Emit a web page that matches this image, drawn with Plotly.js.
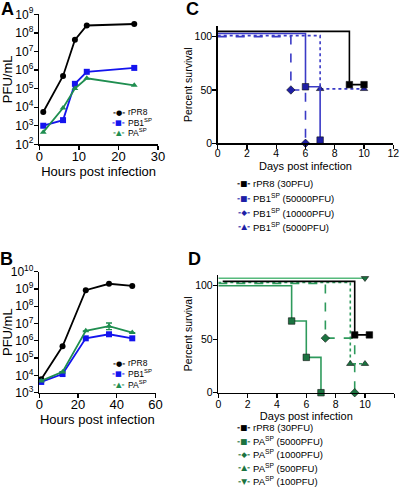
<!DOCTYPE html>
<html>
<head>
<meta charset="utf-8">
<script src="https://cdn.plot.ly/plotly-3.0.1.min.js"></script>
<style>html,body{margin:0;padding:0;background:#fff}#chart{width:400px;height:499px}</style>
</head>
<body>
<div id="chart"></div>
<script>
// ---------- Panel A: growth (hours) ----------
const A_hours = [1, 6, 9, 12, 24];
const A_rPR8  = [5.5e3, 4.8e5, 4.2e7, 2.5e8, 3.0e8];
const A_PB1SP = [1.0e3, 2.0e3, 1.8e5, 8.0e5, 1.3e6];
const A_PASP  = [4.5e2, 9.0e3, 1.0e5, 3.6e5, 1.5e5];
const A_ticks = [1e2, 1e3, 1e4, 1e5, 1e6, 1e7, 1e8, 1e9];
const A_tickText = ["10<sup>2</sup>","10<sup>3</sup>","10<sup>4</sup>","10<sup>5</sup>","10<sup>6</sup>","10<sup>7</sup>","10<sup>8</sup>","10<sup>9</sup>"];

// ---------- Panel B: growth (hours) ----------
const B_hours = [1, 12, 24, 36, 48];
const B_rPR8  = [6.0e3, 4.8e5, 8.5e8, 2.0e9, 1.5e9];
const B_PB1SP = [4.2e3, 1.2e4, 1.4e6, 2.4e6, 1.4e6];
const B_PASP  = [4.8e3, 1.6e4, 3.8e6, 7.0e6, 3.0e6];
const B_PASP_errPlus  = [0, 0, 0, 3.8e6, 0];
const B_PASP_errMinus = [0, 0, 0, 2.6e6, 0];
const B_ticks = [1e3, 1e4, 1e5, 1e6, 1e7, 1e8, 1e9, 1e10];
const B_tickText = ["10<sup>3</sup>","10<sup>4</sup>","10<sup>5</sup>","10<sup>6</sup>","10<sup>7</sup>","10<sup>8</sup>","10<sup>9</sup>","10<sup>10</sup>"];

// ---------- Panel C: survival, PB1SP ----------
const C_rPR8_days = [0, 9, 10];       const C_rPR8_surv = [105, 55, 55];
const C_PB1_50000_days = [0, 6, 7];   const C_PB1_50000_surv = [103, 53, 3];
const C_PB1_10000_days = [0, 5, 6];   const C_PB1_10000_surv = [100, 50, 0];
const C_PB1_5000_days = [0, 7, 10];   const C_PB1_5000_surv = [101, 51, 51];

// ---------- Panel D: survival, PASP ----------
const D_rPR8_days = [0.3, 9.3, 10.3];  const D_rPR8_surv = [104, 54, 54];
const D_PA_5000_days = [0, 5, 6, 7];   const D_PA_5000_surv = [100, 67, 33, 0];
const D_PA_1000_days = [0, 7.3, 9.3];  const D_PA_1000_surv = [102, 51, 0];
const D_PA_500_days = [0, 9, 10];      const D_PA_500_surv = [103, 27, 27];
const D_PA_100_days = [0, 10];         const D_PA_100_surv = [107, 107];

const survTicksX = [0, 2, 4, 6, 8, 10, 12];
const survTicksY = [0, 50, 100];

// ---------- styling ----------
const W = 400, H = 499;
const FONT = "Liberation Sans, Arial, sans-serif";
const BLACK = "#000000", BLUE = "#1414ee", GREEN = "#1f8e50";
const CBLUE = "#3a3ac6", CBLUE_M = "#1e1ea6";
const DGREEN = "#2e9a5c", DGREEN_M = "#1b7340", DGREEN_L = "#56ba7c";
const px = x => x / W;
const py = y => 1 - y / H;

const traces = [];
function growth(x, y, color, symbol, name, xa, ya, extra) {
  const t = {x: x, y: y, name: name, type: "scatter", mode: "lines+markers",
    xaxis: xa, yaxis: ya, showlegend: false, cliponaxis: false,
    line: {color: color, width: 1.8},
    marker: {color: color, symbol: symbol, size: 6}};
  Object.assign(t, extra || {});
  traces.push(t);
}
growth(A_hours, A_rPR8, BLACK, "circle", "rPR8", "x", "y");
growth(A_hours, A_PB1SP, BLUE, "square", "PB1SP", "x", "y");
growth(A_hours, A_PASP, GREEN, "triangle-up", "PASP", "x", "y");
growth(B_hours, B_rPR8, BLACK, "circle", "rPR8", "x3", "y3");
growth(B_hours, B_PB1SP, BLUE, "square", "PB1SP", "x3", "y3");
growth(B_hours, B_PASP, GREEN, "triangle-up", "PASP", "x3", "y3",
  {error_y: {type: "data", symmetric: false, array: B_PASP_errPlus, arrayminus: B_PASP_errMinus,
             color: GREEN, thickness: 1.3, width: 3}});

function survival(days, surv, lineColor, markColor, dash, symbol, name, xa, ya) {
  traces.push({x: days, y: surv, name: name, type: "scatter", mode: "lines",
    xaxis: xa, yaxis: ya, showlegend: false, cliponaxis: false,
    line: {color: lineColor, width: 1.6, shape: "hv", dash: dash}, hoverinfo: "skip"});
  traces.push({x: days.slice(1), y: surv.slice(1), name: name, type: "scatter", mode: "markers",
    xaxis: xa, yaxis: ya, showlegend: false, cliponaxis: false,
    marker: {color: markColor, symbol: symbol, size: 6.5, line: {color: "#101010", width: 0.6}}});
}
survival(C_PB1_10000_days, C_PB1_10000_surv, CBLUE, CBLUE_M, "dash", "diamond", "PB1SP (10000PFU)", "x2", "y2");
survival(C_PB1_5000_days, C_PB1_5000_surv, CBLUE, CBLUE_M, "dot", "triangle-up", "PB1SP (5000PFU)", "x2", "y2");
survival(C_PB1_50000_days, C_PB1_50000_surv, CBLUE, CBLUE_M, "solid", "square", "PB1SP (50000PFU)", "x2", "y2");
survival(C_rPR8_days, C_rPR8_surv, BLACK, BLACK, "solid", "square", "rPR8 (30PFU)", "x2", "y2");

survival(D_PA_5000_days, D_PA_5000_surv, DGREEN, DGREEN_M, "solid", "square", "PASP (5000PFU)", "x4", "y4");
survival(D_PA_1000_days, D_PA_1000_surv, DGREEN, DGREEN_M, "dash", "diamond", "PASP (1000PFU)", "x4", "y4");
survival(D_PA_500_days, D_PA_500_surv, DGREEN, DGREEN_M, "dot", "triangle-up", "PASP (500PFU)", "x4", "y4");
survival(D_PA_100_days, D_PA_100_surv, DGREEN_L, DGREEN_M, "solid", "triangle-down", "PASP (100PFU)", "x4", "y4");
survival(D_rPR8_days, D_rPR8_surv, BLACK, BLACK, "solid", "square", "rPR8 (30PFU)", "x4", "y4");

function axis(extra) {
  return Object.assign({
    showgrid: false, zeroline: false, showline: true, linecolor: "#000", linewidth: 1.5,
    ticks: "outside", ticklen: 4, tickwidth: 1.3, tickcolor: "#000",
    tickfont: {family: FONT, size: 12, color: "#000"}, automargin: false, fixedrange: true
  }, extra);
}
const layout = {
  width: W, height: H, margin: {l: 0, r: 0, t: 0, b: 0},
  paper_bgcolor: "#fff", plot_bgcolor: "rgba(0,0,0,0)", showlegend: false,
  font: {family: FONT, color: "#000"},
  xaxis: axis({domain: [px(39.3), px(158)], anchor: "y", range: [0, 30], tickvals: [0, 10, 20, 30],
    tickfont: {family: FONT, size: 13, color: "#000"}, ticklabelstandoff: -4,
    title: {text: "Hours post infection", font: {family: FONT, size: 13}, standoff: 2}}),
  yaxis: axis({domain: [py(144.3), py(14.3)], anchor: "x", type: "log", range: [2, 9],
    tickvals: A_ticks, ticktext: A_tickText, ticklabelstandoff: -2,
    title: {text: "PFU/mL", font: {family: FONT, size: 13}, standoff: 4}}),
  xaxis3: axis({domain: [px(39.3), px(155.5)], anchor: "y3", range: [0, 60], tickvals: [0, 20, 40, 60],
    tickfont: {family: FONT, size: 13, color: "#000"}, ticklabelstandoff: -5,
    title: {text: "Hours post infection", font: {family: FONT, size: 13}, standoff: 0}}),
  yaxis3: axis({domain: [py(392.7), py(271.7)], anchor: "x3", type: "log", range: [3, 10],
    tickvals: B_ticks, ticktext: B_tickText, ticklabelstandoff: -2,
    title: {text: "PFU/mL", font: {family: FONT, size: 13}, standoff: 4}}),
  xaxis2: axis({domain: [px(217.7), px(393.3)], anchor: "y2", range: [0, 12], tickvals: survTicksX,
    tickfont: {family: FONT, size: 10.5, color: "#000"}, ticklabelstandoff: -4,
    title: {text: "Days post infection", font: {family: FONT, size: 11}, standoff: 4}}),
  yaxis2: axis({domain: [py(143.3), py(26)], anchor: "x2", range: [0, 110], tickvals: survTicksY,
    tickfont: {family: FONT, size: 10.5, color: "#000"}, ticklabelstandoff: -2,
    title: {text: "Percent survival", font: {family: FONT, size: 10.5}, standoff: 0}}),
  xaxis4: axis({domain: [px(218.3), px(394.3)], anchor: "y4", range: [0, 12], tickvals: survTicksX,
    tickfont: {family: FONT, size: 10.5, color: "#000"}, ticklabelstandoff: -3,
    title: {text: "Days post infection", font: {family: FONT, size: 11}, standoff: 3}}),
  yaxis4: axis({domain: [py(392.7), py(275)], anchor: "x4", range: [0, 110], tickvals: survTicksY,
    tickfont: {family: FONT, size: 10.5, color: "#000"}, ticklabelstandoff: -2,
    title: {text: "Percent survival", font: {family: FONT, size: 10.5}, standoff: 0}}),
  annotations: []
};

// panel letters
[["A", 7, 9], ["C", 192, 9], ["B", 6, 259], ["D", 194, 259]].forEach(p => {
  layout.annotations.push({text: "<b>" + p[0] + "</b>", x: px(p[1]), y: py(p[2]), xref: "paper", yref: "paper",
    xanchor: "center", yanchor: "middle", showarrow: false, font: {family: FONT, size: 18, color: "#000"}});
});

// legends (symbol + label)
function legendRow(sym, symColor, label, sx, tx, y, size) {
  layout.annotations.push({text: "<b>-</b>" + sym + "<b>-</b>", x: px(sx), y: py(y), xref: "paper", yref: "paper",
    xanchor: "center", yanchor: "middle", showarrow: false,
    font: {family: "DejaVu Sans", size: Math.max(size * 0.8, 7.2), color: symColor}});
  layout.annotations.push({text: label, x: px(tx), y: py(y), xref: "paper", yref: "paper",
    xanchor: "left", yanchor: "middle", showarrow: false,
    font: {family: FONT, size: size, color: "#000"}});
}
const growthLegend = [["●", BLACK, "rPR8"], ["■", BLUE, "PB1<sup>SP</sup>"], ["▲", GREEN, "PA<sup>SP</sup>"]];
[112, 122.5, 133].forEach((y, i) => legendRow(growthLegend[i][0], growthLegend[i][1], growthLegend[i][2], 118.5, 126, y, 8.5));
[363, 373.5, 384].forEach((y, i) => legendRow(growthLegend[i][0], growthLegend[i][1], growthLegend[i][2], 118.5, 126, y, 8.5));

const cLegend = [["■", BLACK, "rPR8 (30PFU)"], ["■", CBLUE_M, "PB1<sup>SP</sup> (50000PFU)"],
                 ["◆", CBLUE_M, "PB1<sup>SP</sup> (10000PFU)"], ["▲", CBLUE_M, "PB1<sup>SP</sup> (5000PFU)"]];
[183.3, 198.3, 212.7, 226.7].forEach((y, i) => legendRow(cLegend[i][0], cLegend[i][1], cLegend[i][2], 244, 250.5, y, 9.5));
const dLegend = [["■", BLACK, "rPR8 (30PFU)"], ["■", DGREEN_M, "PA<sup>SP</sup> (5000PFU)"],
                 ["◆", DGREEN_M, "PA<sup>SP</sup> (1000PFU)"], ["▲", DGREEN_M, "PA<sup>SP</sup> (500PFU)"],
                 ["▼", DGREEN_M, "PA<sup>SP</sup> (100PFU)"]];
[427.3, 441, 454.3, 467.7, 481].forEach((y, i) => legendRow(dLegend[i][0], dLegend[i][1], dLegend[i][2], 244.5, 251, y, 9.5));

Plotly.newPlot("chart", traces, layout, {staticPlot: true, displayModeBar: false});
</script>
</body>
</html>
